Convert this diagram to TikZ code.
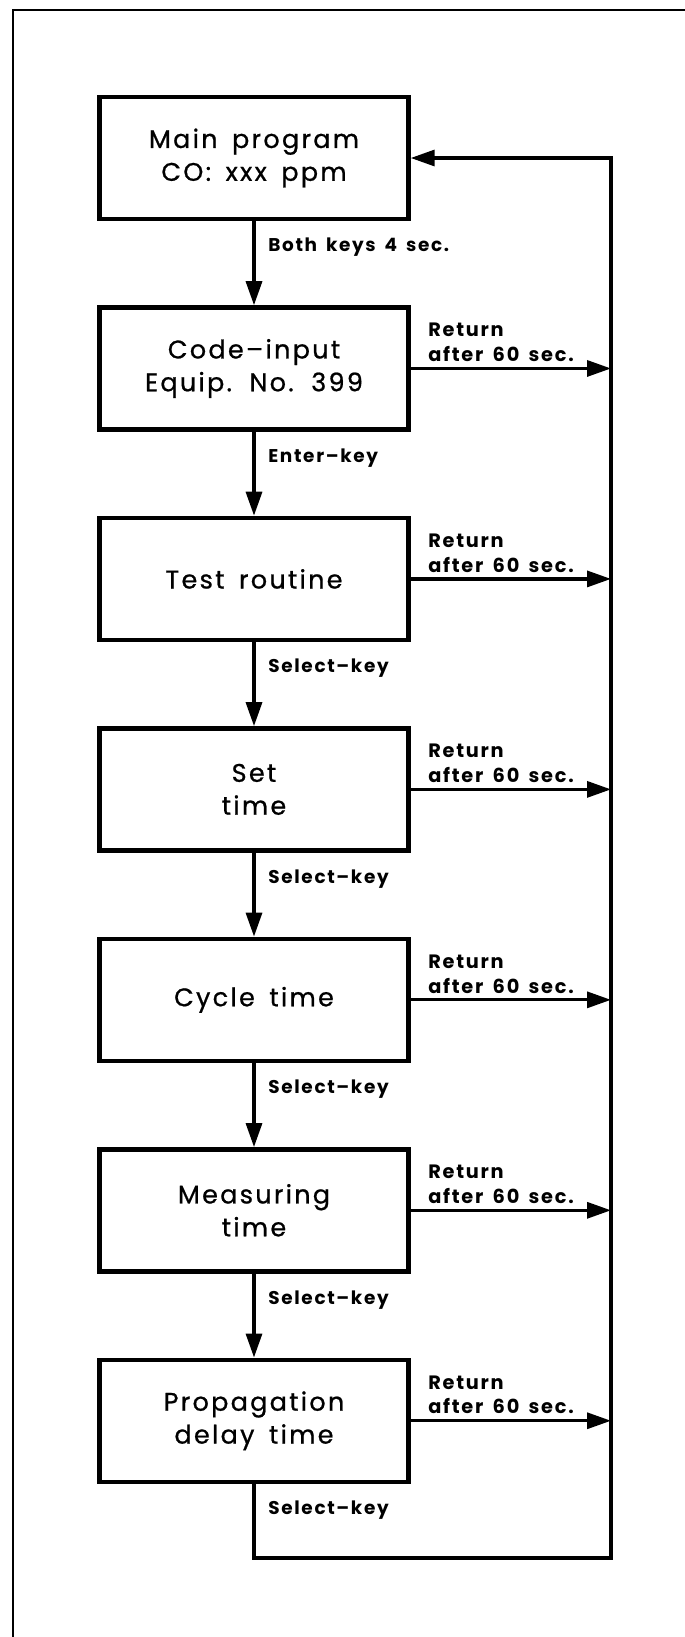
\documentclass[tikz,border=0pt]{standalone}
\usepackage{fontspec}
\setmainfont{Poppins}[LetterSpace=9,WordSpace=1.6]
\usetikzlibrary{arrows.meta,positioning}

\begin{document}
\begin{tikzpicture}[x=0.02cm,y=-0.02cm,
  stage/.style={draw,line width=0.09cm,minimum width=6.18cm,minimum height=2.44cm,
    align=center,font=\fontsize{14.5}{18.7}\selectfont\addfontfeatures{FakeBold=0.8}},
  flow/.style={line width=0.065cm,-{Triangle[length=0.48cm,width=0.32cm]}},
  keylbl/.style={anchor=north west,inner sep=0pt,font=\bfseries\fontsize{10.5}{13}\selectfont},
  retlbl/.style={anchor=south west,inner sep=0pt,align=left,
    font=\bfseries\fontsize{11}{14.2}\selectfont}]
\useasboundingbox (0,0) rectangle (685,1637);
\draw[line width=0.04cm] (685,9.5) -- (13,9.5) -- (13,1637);
\node[stage] (p1) at (254,158) {Main program\\CO: xxx ppm};
\node[stage,below=1.68cm of p1] (p2) {Code–input\\Equip. No. 399};
\node[stage,below=1.68cm of p2] (p3) {Test routine};
\node[stage,below=1.68cm of p3] (p4) {Set\\time};
\node[stage,below=1.68cm of p4] (p5) {Cycle time};
\node[stage,below=1.68cm of p5] (p6) {Measuring\\time};
\node[stage,below=1.68cm of p6] (p7) {Propagation\\delay time};
\foreach \i/\t in {1/Both keys 4 sec.,2/Enter–key,3/Select–key,4/Select–key,
  5/Select–key,6/Select–key,7/Select–key}
  \node[keylbl] (k\i) at ([xshift=0.28cm,yshift=-0.33cm]p\i.south) {\t};
\foreach \i [remember=\i as \j (initially 1)] in {2,...,7}
  \draw[flow] (p\j) -- (p\i);
\foreach \i in {2,...,7}
  \draw[flow] (p\i.east) -- (p\i.east -| 611,0)
    node[retlbl,pos=0,xshift=0.32cm,yshift=0.1cm] (t\i) {Return\\after 60 sec.};
% way back to the main program
\coordinate (bl) at (p7.south |- 0,1558);
\coordinate (br) at (611,1558);
\coordinate (tr) at (p1.east -| 611,0);
\draw[flow] (p7) -- (bl) -- (br) -- (tr) -- (p1.east);
\end{tikzpicture}
\end{document}
